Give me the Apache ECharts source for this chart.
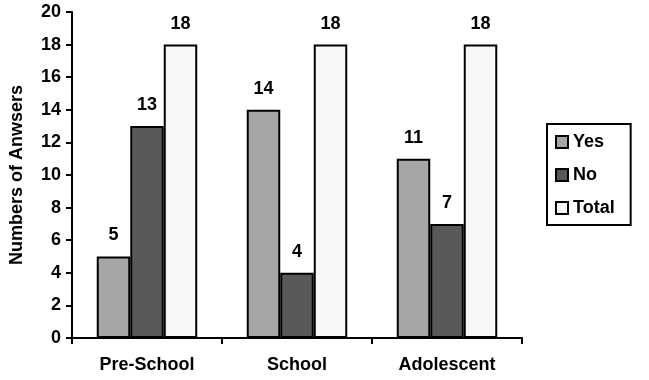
<!DOCTYPE html>
<html><head><meta charset="utf-8">
<script src="https://cdn.jsdelivr.net/npm/echarts@6/dist/echarts.min.js"></script>
<style>html,body{margin:0;padding:0;background:#fff}#c{width:649px;height:380px}</style>
</head><body><div id="c"></div>
<script>
const categories = ['Pre-School', 'School', 'Adolescent'];
const yesValues = [5, 14, 11];
const noValues = [13, 4, 7];
const totalValues = [18, 18, 18];
const yTicks = [0, 2, 4, 6, 8, 10, 12, 14, 16, 18, 20];

const font = 'Liberation Sans, Arial, Helvetica, sans-serif';
const chart = echarts.init(document.getElementById('c'));
function series(name, data, color) {
  return {
    name, type: 'bar', data, barGap: '0%', barCategoryGap: '33%',
    itemStyle: { color, borderColor: '#000', borderWidth: 2 },
    label: { show: true, position: 'top', distance: 12, color: '#000', fontWeight: 'bold', fontSize: 18, fontFamily: font }
  };
}
chart.setOption({
  animation: false,
  grid: { left: 72, right: 127, top: 12, bottom: 42, containLabel: false, outerBoundsMode: 'none' },
  legend: {
    orient: 'vertical', left: 547, top: 124, itemWidth: 12, itemHeight: 12, itemGap: 15,
    icon: 'rect',
    padding: [9, 16, 8, 8],
    borderColor: '#000', borderWidth: 2,
    textStyle: { color: '#000', fontWeight: 'bold', fontSize: 18, fontFamily: font },
    data: ['Yes', 'No', 'Total']
  },
  xAxis: {
    type: 'category', data: categories,
    axisLine: { lineStyle: { color: '#000', width: 2 } },
    axisTick: { show: true, length: 6, lineStyle: { color: '#000', width: 2 } },
    axisLabel: { color: '#000', fontWeight: 'bold', fontSize: 18, fontFamily: font, margin: 18 }
  },
  yAxis: {
    type: 'value', min: 0, max: 20, interval: 2,
    name: 'Numbers of Anwsers', nameLocation: 'middle', nameGap: 46, nameRotate: 90,
    nameTextStyle: { color: '#000', fontWeight: 'bold', fontSize: 18, fontFamily: font },
    axisLine: { show: true, lineStyle: { color: '#000', width: 2 } },
    axisTick: { show: true, length: 6, lineStyle: { color: '#000', width: 2 } },
    splitLine: { show: false },
    axisLabel: { color: '#000', fontWeight: 'bold', fontSize: 18, fontFamily: font, margin: 11,
      formatter: v => yTicks.includes(v) ? String(v) : '' }
  },
  series: [
    series('Yes', yesValues, '#a6a6a6'),
    series('No', noValues, '#595959'),
    series('Total', totalValues, '#f7f7f7')
  ]
});
</script></body></html>
